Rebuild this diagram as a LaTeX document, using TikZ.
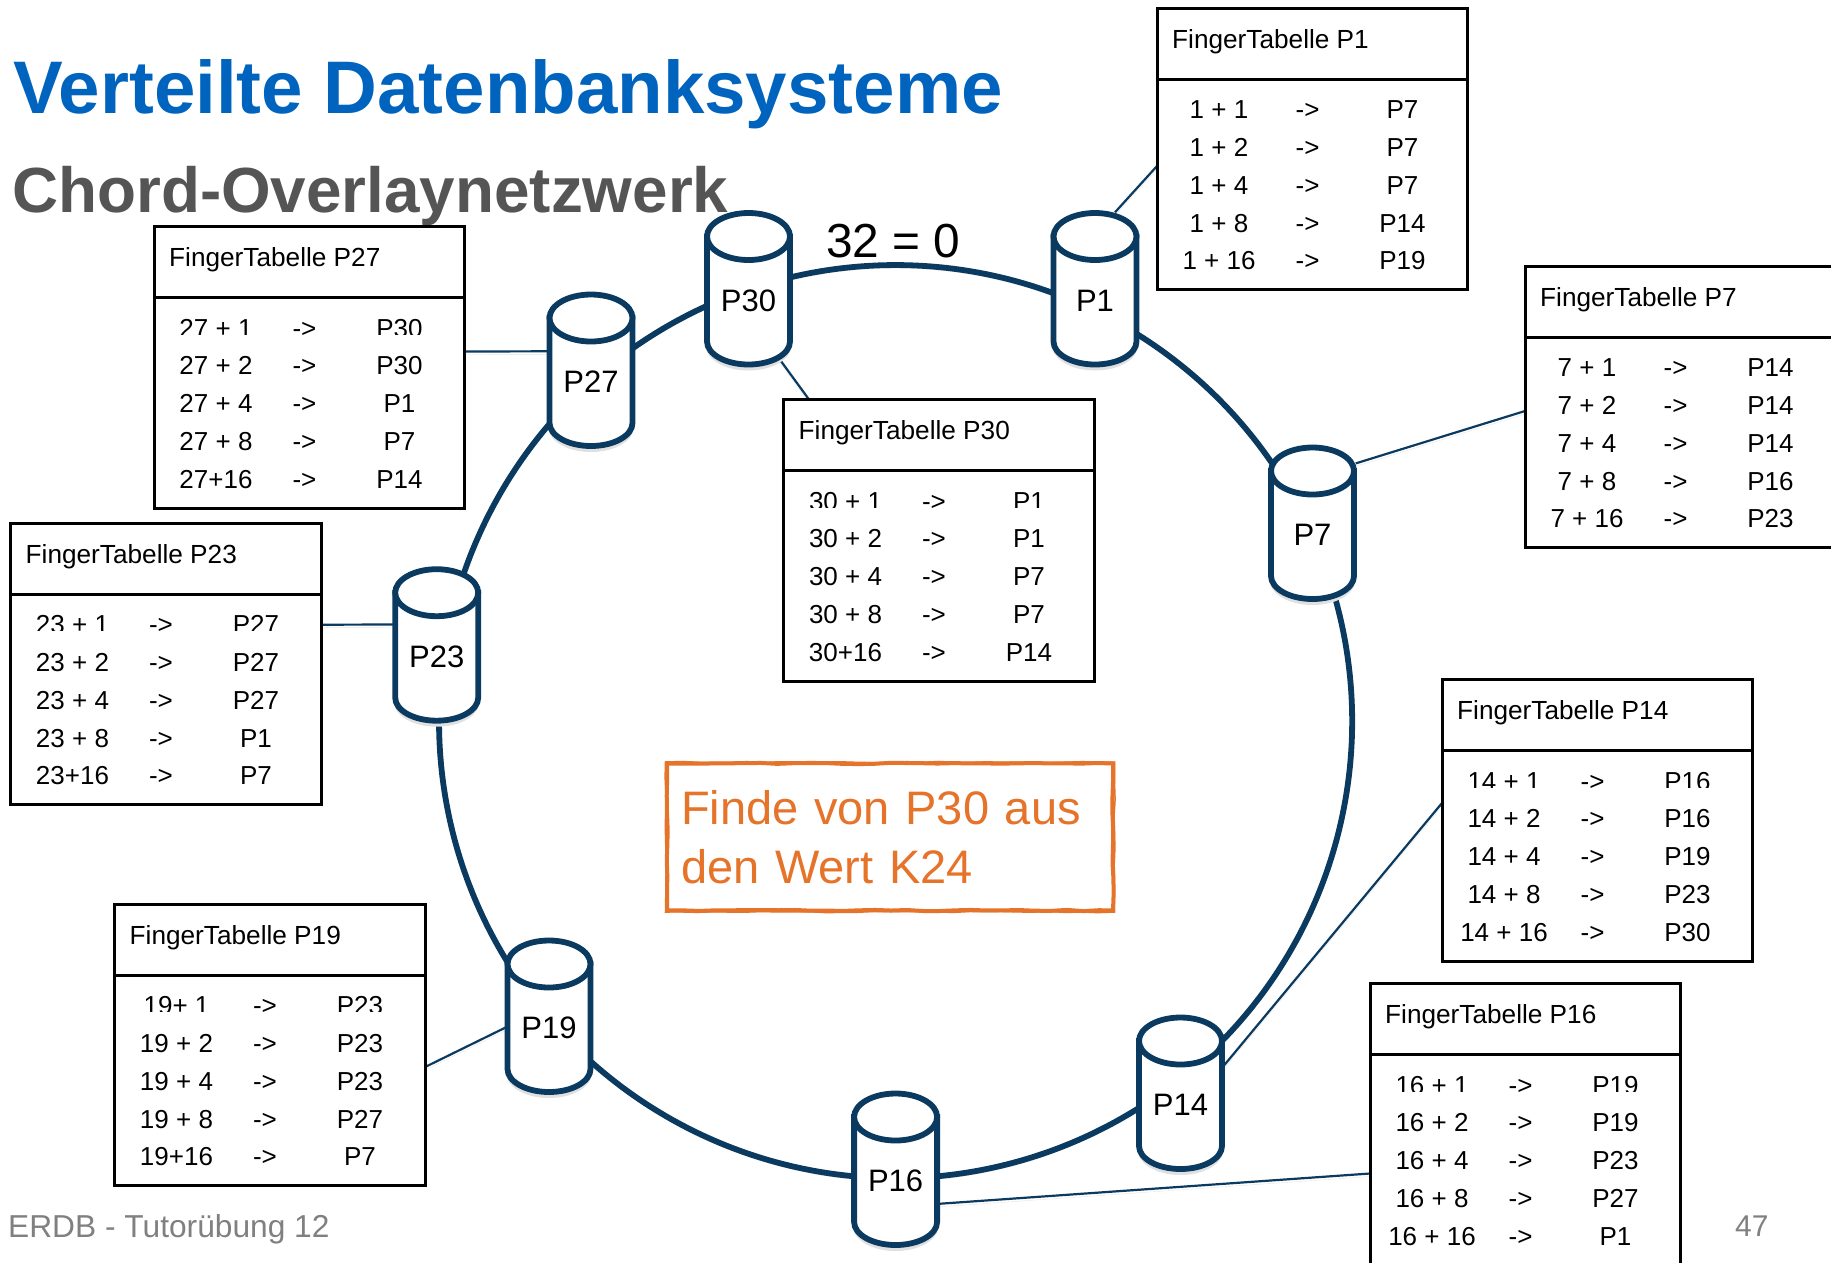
\documentclass[tikz,border=0pt]{standalone}
\usepackage{fontspec}
\setmainfont{Liberation Sans}
\usetikzlibrary{calc,decorations.pathmorphing}
\pgfdeclarelayer{bg}
\pgfsetlayers{bg,main}
\definecolor{navy}{HTML}{0A3A60}
\definecolor{titleblue}{HTML}{0064BE}
\definecolor{subgrey}{HTML}{555555}
\definecolor{footgrey}{HTML}{808080}
\definecolor{noteorange}{HTML}{E5732A}
\tikzset{
  tablebox/.style={draw=black,line width=3pt,fill=white,minimum width=310.6pt,minimum height=281.6pt,anchor=north west,inner sep=0pt,outer sep=0pt},
  headtxt/.style={font=\fontsize{26.2}{30}\selectfont,anchor=base west,inner sep=0pt},
  rowtxt/.style={font=\fontsize{26}{30}\selectfont,anchor=base,inner sep=0pt},
  dbbody/.style={draw=navy,line width=5.8pt,fill=white},
  dblabel/.style={font=\fontsize{31}{36}\selectfont,minimum width=86pt,minimum height=153pt,inner sep=0pt},
  softshadow/.style={preaction={draw=black!10,transform canvas={yshift=-3pt}}},
  ringlink/.style={draw=navy,line width=5.8pt,softshadow},
  thinlink/.style={draw=navy,line width=2.2pt,softshadow},
  notebox/.style={text=noteorange,font=\fontsize{47}{59}\selectfont,align=left,text width=418pt,minimum width=446pt,minimum height=147pt,inner xsep=14pt,inner ysep=0pt,outer sep=0pt,anchor=north west},
  roughline/.style={draw=noteorange,decorate,decoration={random steps,segment length=16pt,amplitude=.6pt}},
}
% name, x of the left edge, y of the top edge, title, rows
\newcommand\fingertable[5]{%
  \node[tablebox] (#1) at (#2,#3) {};
  \draw[black,line width=3pt] ($(#1.north west)+(0,71)$) -- ($(#1.north east)+(0,71)$);
  \node[headtxt] (#1h) at ($(#1.north west)+(15,40)$) {#4};
  \foreach \a/\b [count=\i] in {#5} {
    \pgfmathsetmacro\rowy{\i==1 ? 110.6 : (\i==2 ? 148 : (\i==3 ? 186 : (\i==4 ? 224 : 261.5)))}
    \node[rowtxt] (#1a\i) at ($(#1.north west)+(62,\rowy)$) {\a};
    \node[rowtxt] (#1m\i) at ($(#1.north west)+(150.5,\rowy)$) {->};
    \node[rowtxt] (#1b\i) at ($(#1.north west)+(245.5,\rowy)$) {\b};
  }
}
% the first row of most tables is cut off just above its baseline
\newcommand\rowcut[1]{\fill[white] ($(#1.north west)+(5,108)$) rectangle ($(#1.north east)+(-5,112.5)$);}
% name, centre x, top y
\newcommand\dbnode[3]{%
  \fill[black!12] ({#2-43},{#3+30}) -- ({#2-43},{#3+132})
     .. controls ({#2-43},{#3+147}) and ({#2-24},{#3+158}) .. ({#2},{#3+158})
     .. controls ({#2+24},{#3+158}) and ({#2+43},{#3+147}) .. ({#2+43},{#3+132}) -- ({#2+43},{#3+30}) -- cycle;
  \path[dbbody] ({#2-41.5},{#3+24}) -- ({#2-41.5},{#3+129})
     .. controls ({#2-41.5},{#3+141.7}) and ({#2-22.9},{#3+152}) .. ({#2},{#3+152})
     .. controls ({#2+22.9},{#3+152}) and ({#2+41.5},{#3+141.7}) .. ({#2+41.5},{#3+129})
     -- ({#2+41.5},{#3+24}) -- cycle;
  \path[dbbody] ({#2},{#3+24}) ellipse[x radius=41.5,y radius=23.5];
  \node[dblabel] (#1) at ({#2},{#3+76.5}) {\raisebox{-22.2pt}[0pt][0pt]{#1}};
}
\newcommand\ringpt[2]{\coordinate (#1) at ($(ringc)+({456.6*cos(#2)},{-456.6*sin(#2)})$);}
\begin{document}
\begin{tikzpicture}[x=1pt,y=-1pt]
\path[use as bounding box,clip] (0,0) rectangle (1831,1262);
\pgfmathsetseed{7}

\fingertable{T1}{1157}{8}{FingerTabelle P1}{1 + 1/P7,1 + 2/P7,1 + 4/P7,1 + 8/P14,1 + 16/P19}
\fingertable{T27}{154}{226.5}{FingerTabelle P27}{27 + 1/P30,27 + 2/P30,27 + 4/P1,27 + 8/P7,27+16/P14}
\fingertable{T30}{783.5}{399.5}{FingerTabelle P30}{30 + 1/P1,30 + 2/P1,30 + 4/P7,30 + 8/P7,30+16/P14}
\fingertable{T7}{1525}{266}{FingerTabelle P7}{7 + 1/P14,7 + 2/P14,7 + 4/P14,7 + 8/P16,7 + 16/P23}
\fingertable{T23}{10.5}{523}{FingerTabelle P23}{23 + 1/P27,23 + 2/P27,23 + 4/P27,23 + 8/P1,23+16/P7}
\fingertable{T14}{1442}{679.5}{FingerTabelle P14}{14 + 1/P16,14 + 2/P16,14 + 4/P19,14 + 8/P23,14 + 16/P30}
\fingertable{T19}{114.5}{904}{FingerTabelle P19}{19+ 1/P23,19 + 2/P23,19 + 4/P23,19 + 8/P27,19+16/P7}
\fingertable{T16}{1370}{983.5}{FingerTabelle P16}{16 + 1/P19,16 + 2/P19,16 + 4/P23,16 + 8/P27,16 + 16/P1}
\rowcut{T27}
\rowcut{T30}
\rowcut{T23}
\rowcut{T14}
\rowcut{T19}
\rowcut{T16}

\dbnode{P1}{1095}{212.5}
\dbnode{P30}{748.5}{212.5}
\dbnode{P27}{591}{294}
\dbnode{P7}{1312.5}{447}
\dbnode{P23}{436.7}{568.7}
\dbnode{P19}{549}{940}
\dbnode{P16}{895.6}{1093}
\dbnode{P14}{1180.5}{1017}

\node[font=\fontsize{47.8}{52}\selectfont,anchor=base west,inner sep=0pt] (zero) at (826,257) {32 = 0};
\node[notebox] (note) at (667,763.5) {Finde von P30 aus\\den Wert K24};
\draw[roughline,line width=4pt] (note.north west) rectangle (note.south east);
\draw[roughline,line width=1.5pt] ($(note.north west)+(-1.5,-1.5)$) rectangle ($(note.south east)+(1.5,1.5)$);
\node[font=\fontsize{31.7}{38}\selectfont,text=footgrey,anchor=base west,inner sep=0pt] (foot) at (8,1237) {ERDB - Tutorübung 12};
\node[font=\fontsize{30}{36}\selectfont,text=footgrey,anchor=base west,inner sep=0pt] (pagenum) at (1735,1236) {47};

\begin{pgfonlayer}{bg}
\node[font=\bfseries\fontsize{74.5}{80}\selectfont,text=titleblue,anchor=base west,inner sep=0pt] (title) at (13,113) {Verteilte Datenbanksysteme};
\node[font=\bfseries\fontsize{63.8}{70}\selectfont,text=subgrey,anchor=base west,inner sep=0pt] (subtitle) at (12,212) {Chord-Overlaynetzwerk};

\coordinate (ringc) at (895.6,721.6);
\ringpt{r30}{108.8}
\ringpt{r1}{65.3}
\ringpt{r7}{25.4}
\ringpt{r14}{-52.5}
\ringpt{r16}{-90}
\ringpt{r19}{-139.6}
\ringpt{r23}{-189.5}
\ringpt{r27}{-229.1}
\draw[ringlink] (r30) to[bend left=21.75,looseness=.883] (r1);
\draw[ringlink] (r1) to[bend left=19.95,looseness=.877] (r7);
\draw[ringlink] (r7) to[bend left=38.95,looseness=.958] (r14);
\draw[ringlink] (r14) to[bend left=18.75,looseness=.875] (r16);
\draw[ringlink] (r16) to[bend left=24.8,looseness=.893] (r19);
\draw[ringlink] (r19) to[bend left=24.95,looseness=.893] (r23);
\draw[ringlink] (r23) to[bend left=19.8,looseness=.876] (r27);
\draw[ringlink] (r27) to[bend left=11.05,looseness=.859] (r30);

\draw[thinlink] ($(P1.north)+(20,0)$) -- ($(T1.north west)+(0,158)$);
\draw[thinlink] ($(P30.north)+(31.5,147.5)$) -- ($(T30.north west)+(25.5,0)$);
\draw[thinlink] ($(P27.north west)+(0,57.5)$) -- ($(T27.north east)+(0,125)$);
\draw[thinlink] ($(P23.north west)+(0,56)$) -- ($(T23.north east)+(0,101.7)$);
\draw[thinlink] ($(P19.north west)+(0,87.6)$) -- ($(T19.north east)+(0,163)$);
\draw[thinlink] ($(P7.north east)+(0,16.6)$) -- ($(T7.north west)+(0,145)$);
\draw[thinlink] ($(P14.north east)+(0,49)$) -- ($(T14.north west)+(0,123.5)$);
\draw[thinlink] ($(P16.north east)+(0,111)$) -- ($(T16.north west)+(0,190)$);
\end{pgfonlayer}
\end{tikzpicture}
\end{document}
